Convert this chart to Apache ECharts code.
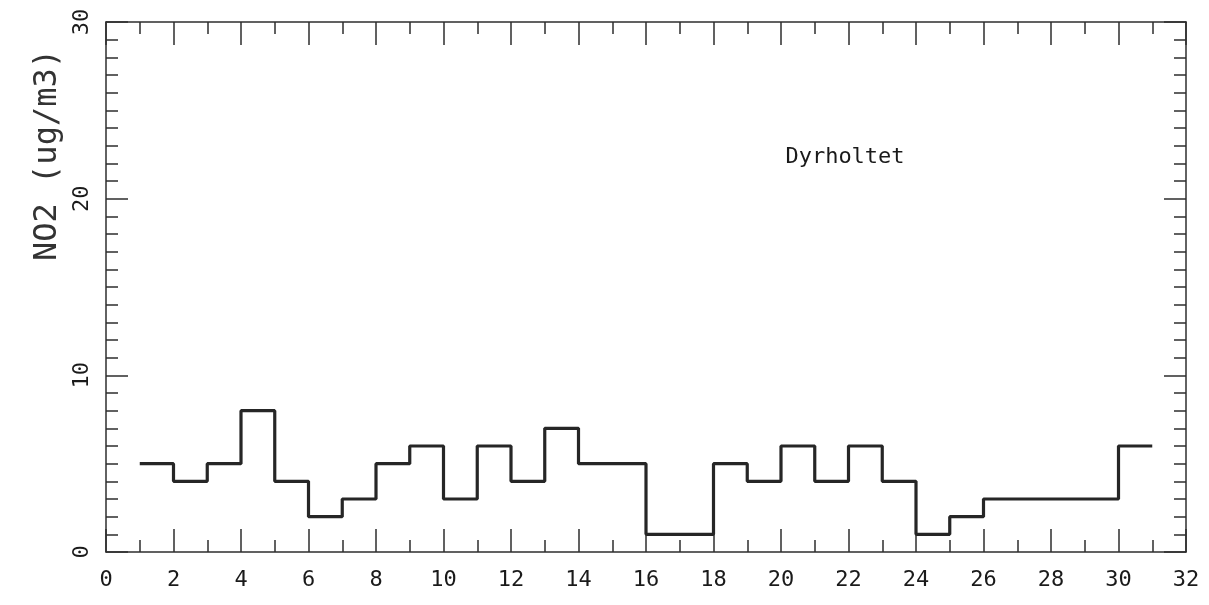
<!DOCTYPE html>
<html>
<head>
<meta charset="utf-8">
<script src="https://cdn.jsdelivr.net/npm/echarts@6/dist/echarts.min.js"></script>
<style>
html,body{margin:0;padding:0;background:#fff;}
#chart{width:1209px;height:605px;}
</style>
</head>
<body>
<div id="chart"></div>
<script>
// Day (start of each daily interval)
var days = [1,2,3,4,5,6,7,8,9,10,11,12,13,14,15,16,17,18,19,20,21,22,23,24,25,26,27,28,29,30];
// Daily NO2 (ug/m3), held from day to day+1
var no2 = [5,4,5,8,4,2,3,5,6,3,6,4,7,5,5,1,1,5,4,6,4,6,4,1,2,3,3,3,3,6];
var stationName = 'Dyrholtet';
var yTitle = 'NO2 (ug/m3)';
var xTicks = {min: 0, max: 32, interval: 2};
var yTicks = {min: 0, max: 30, interval: 10};

var pts = days.map(function (d, i) { return [d, no2[i]]; });
pts.push([days[days.length - 1] + 1, no2[no2.length - 1]]);

var font = "'DejaVu Sans Mono','Liberation Mono',monospace";
var axColor = '#2e2e2e';

function xAx(pos, showLabel) {
  return {
    type: 'value', position: pos, min: xTicks.min, max: xTicks.max, interval: xTicks.interval,
    axisLine: {show: true, onZero: false, lineStyle: {color: axColor, width: 1.5}},
    axisTick: {show: true, inside: true, length: 23, lineStyle: {color: axColor, width: 1.5}},
    minorTick: {show: true, splitNumber: 2, length: 12, lineStyle: {color: axColor, width: 1.5}},
    splitLine: {show: false}, minorSplitLine: {show: false},
    axisLabel: {show: showLabel, margin: 17, color: '#1a1a1a', fontSize: 22, fontFamily: font}
  };
}
function yAx(pos, showLabel) {
  return {
    type: 'value', position: pos, min: yTicks.min, max: yTicks.max, interval: yTicks.interval,
    axisLine: {show: true, onZero: false, lineStyle: {color: axColor, width: 1.5}},
    axisTick: {show: true, inside: true, length: 22, lineStyle: {color: axColor, width: 1.5}},
    minorTick: {show: true, splitNumber: 10, length: 12, lineStyle: {color: axColor, width: 1.5}},
    splitLine: {show: false}, minorSplitLine: {show: false},
    axisLabel: {show: showLabel, rotate: 90, margin: 13, color: '#1a1a1a', fontSize: 22, fontFamily: font}
  };
}

var chart = echarts.init(document.getElementById('chart'), null, {renderer: 'canvas'});
chart.setOption({
  animation: false,
  backgroundColor: '#fff',
  grid: {left: 106, right: 23, top: 22, bottom: 53},
  xAxis: [xAx('bottom', true), xAx('top', false)],
  yAxis: [yAx('left', true), yAx('right', false)],
  graphic: [
    {type: 'text', position: [48, 155], rotation: Math.PI / 2,
     style: {text: yTitle, fill: '#333', font: '32px ' + font, textAlign: 'center', textVerticalAlign: 'middle'}},
    {type: 'text', position: [845, 157],
     style: {text: stationName, fill: '#1a1a1a', font: '22px ' + font, textAlign: 'center', textVerticalAlign: 'middle'}}
  ],
  series: [{
    type: 'line', xAxisIndex: 0, yAxisIndex: 0, step: 'end', data: pts,
    showSymbol: false, symbol: 'none',
    lineStyle: {color: '#262626', width: 3.2}
  }]
});
</script>
</body>
</html>
